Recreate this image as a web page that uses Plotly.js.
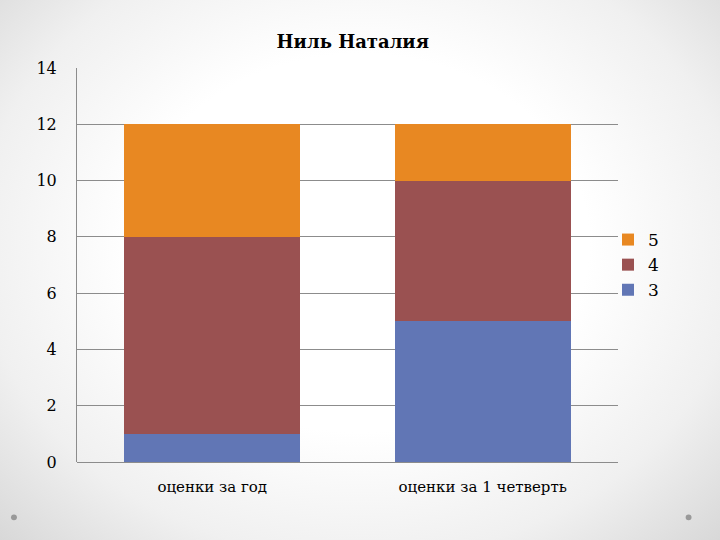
<!DOCTYPE html>
<html>
<head>
<meta charset="utf-8">
<script src="https://cdn.plot.ly/plotly-3.0.1.min.js"></script>
<style>
  html, body { margin: 0; padding: 0; }
  body {
    width: 720px; height: 540px;
    background: radial-gradient(ellipse at 50% 45%, #ffffff 0%, #ffffff 45%, #f0f0f0 75%, #d8d8d8 100%);
  }
  #chart { width: 720px; height: 540px; }
</style>
</head>
<body>
<div id="chart"></div>
<script>
// categories and grade counts
var categories = ["оценки за год", "оценки за 1 четверть"];
var grade3 = [1, 5];
var grade4 = [7, 5];
var grade5 = [4, 2];
var yTicks = [0, 2, 4, 6, 8, 10, 12, 14];

var serif = "DejaVu Serif";

var traces = [
  { x: categories, y: grade3, name: "3", type: "bar", marker: { color: "#6176B5" } },
  { x: categories, y: grade4, name: "4", type: "bar", marker: { color: "#9A5151" } },
  { x: categories, y: grade5, name: "5", type: "bar", marker: { color: "#E88822" } }
];

var layout = {
  width: 720,
  height: 540,
  paper_bgcolor: "rgba(0,0,0,0)",
  plot_bgcolor: "rgba(0,0,0,0)",
  barmode: "stack",
  bargap: 0.35,
  margin: { l: 77, r: 102, t: 68, b: 78 },
  font: { family: serif, size: 15, color: "#000" },
  title: {
    text: "<b>Ниль Наталия</b>",
    font: { family: serif, size: 18, color: "#000" },
    x: 0.49, xanchor: "center",
    y: 0.922, yanchor: "middle"
  },
  xaxis: {
    showgrid: false,
    showline: false,
    ticks: "",
    ticklabelstandoff: 14,
    tickfont: { family: serif, size: 15 }
  },
  yaxis: {
    range: [0, 14],
    tickvals: yTicks,
    showgrid: true,
    gridcolor: "#8c8c8c",
    gridwidth: 1,
    showline: true,
    linecolor: "#8c8c8c",
    zeroline: true,
    zerolinecolor: "#8c8c8c",
    ticks: "",
    ticklabelstandoff: 16,
    tickfont: { family: serif, size: 16 }
  },
  legend: {
    traceorder: "reversed",
    x: 1.0, xanchor: "left",
    y: 0.5, yanchor: "middle",
    font: { family: serif, size: 17 },
    itemwidth: 30,
    indentation: -10,
    tracegroupgap: 0
  },
  showlegend: true,
  shapes: [
    { type: "circle", xref: "paper", yref: "paper", x0: -0.122, x1: -0.111, y0: -0.148, y1: -0.133,
      fillcolor: "#999", line: { width: 0 } },
    { type: "circle", xref: "paper", yref: "paper", x0: 1.125, x1: 1.136, y0: -0.148, y1: -0.133,
      fillcolor: "#999", line: { width: 0 } }
  ]
};

Plotly.newPlot("chart", traces, layout, { displayModeBar: false, staticPlot: true });
</script>
</body>
</html>
